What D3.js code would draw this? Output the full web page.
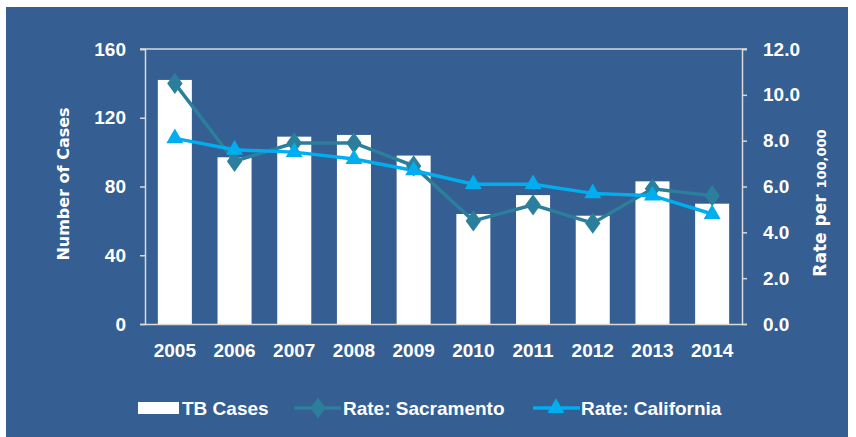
<!DOCTYPE html>
<meta charset="utf-8">
<script src="https://d3js.org/d3.v7.min.js"></script>
<body style="margin:0;background:#fff">
<svg id="chart" width="856" height="437"></svg>
<script>
    // data
    const years = ["2005","2006","2007","2008","2009","2010","2011","2012","2013","2014"];
    const tbCases = [142, 97, 109, 110, 98, 64, 75, 63, 83, 70];
    const rateSacramento = [10.5, 7.1, 7.9, 7.9, 6.9, 4.5, 5.2, 4.4, 5.9, 5.6];
    const rateCalifornia = [8.1, 7.6, 7.5, 7.2, 6.7, 6.1, 6.1, 5.7, 5.6, 4.8];
    const leftTicks = [0, 40, 80, 120, 160];
    const rightTicks = [0, 2, 4, 6, 8, 10, 12];

    const bg = "#355e92", axisCol = "#d9d9d9";
    const sacCol = "#2c7f9c", calCol = "#00aeef";
    const tickFont = "'Liberation Sans Narrow', 'Liberation Sans', sans-serif";

    const svg = d3.select("#chart");
    svg.append("rect").attr("x", 6).attr("y", 7).attr("width", 842).attr("height", 430).attr("fill", bg);

    const pLeft = 145, pRight = 742, pTop = 49, pBottom = 324;

    const x = d3.scaleBand().domain(years).range([pLeft, pRight]).paddingInner(0.43).paddingOuter(0.215);
    const yL = d3.scaleLinear().domain([0, 160]).range([pBottom, pTop]);
    const yR = d3.scaleLinear().domain([0, 12]).range([pBottom, pTop]);

    // bars
    svg.append("g").selectAll("rect")
        .data(tbCases)
        .join("rect")
            .attr("x", (d, i) => x(years[i]))
            .attr("y", d => yL(d))
            .attr("width", x.bandwidth())
            .attr("height", d => pBottom - yL(d))
            .attr("fill", "#fff");

    // axes
    const gl = svg.append("g").attr("transform", `translate(${pLeft},0)`)
        .call(d3.axisLeft(yL).tickValues(leftTicks).tickSize(5).tickPadding(14));
    const gr = svg.append("g").attr("transform", `translate(${pRight},0)`)
        .call(d3.axisRight(yR).tickValues(rightTicks).tickSize(5).tickPadding(16).tickFormat(d3.format(".1f")));
    [gl, gr].forEach(g => {
        g.select(".domain").attr("stroke", axisCol).attr("stroke-width", 1.5);
        g.selectAll(".tick line").attr("stroke", axisCol).attr("stroke-width", 1.5);
        g.selectAll(".tick text").attr("fill", "#fff").style("font", `bold 19px ${tickFont}`);
    });

    // top line and base line
    svg.append("line").attr("x1", pLeft - 5).attr("x2", pRight + 5).attr("y1", pTop).attr("y2", pTop)
        .attr("stroke", axisCol).attr("stroke-width", 1.5);
    const gx = svg.append("g").attr("transform", `translate(0,${pBottom})`)
        .call(d3.axisBottom(x).tickSize(0).tickPadding(20));
    gx.select(".domain").attr("stroke", axisCol).attr("stroke-width", 1.5);
    gx.selectAll(".tick text").attr("fill", "#fff").style("font", `bold 19px ${tickFont}`);

    // lines
    const cx = (d, i) => x(years[i]) + x.bandwidth() / 2;
    const line = d3.line().x(cx).y(d => yR(d));
    svg.append("path").datum(rateSacramento).attr("d", line)
        .attr("fill", "none").attr("stroke", sacCol).attr("stroke-width", 3.5);
    svg.append("path").datum(rateCalifornia).attr("d", line)
        .attr("fill", "none").attr("stroke", calCol).attr("stroke-width", 3.5);

    const diamond = d3.symbol().type(d3.symbolDiamond).size(130);
    const tri = d3.symbol().type(d3.symbolTriangle).size(125);
    svg.append("g").selectAll("path").data(rateSacramento).join("path")
        .attr("d", diamond).attr("fill", sacCol)
        .attr("transform", (d, i) => `translate(${cx(d, i)},${yR(d)}) scale(1.25,1)`);
    svg.append("g").selectAll("path").data(rateCalifornia).join("path")
        .attr("d", tri).attr("fill", calCol)
        .attr("transform", (d, i) => `translate(${cx(d, i)},${yR(d)})`);

    // axis titles
    svg.append("text").attr("transform", "translate(69,184) rotate(-90)")
        .attr("text-anchor", "middle").attr("fill", "#fff")
        .style("font", "bold 16px 'DejaVu Sans', sans-serif").text("Number of Cases");
    const rt = svg.append("text").attr("transform", "translate(826,203) rotate(-90)")
        .attr("text-anchor", "middle").attr("fill", "#fff")
        .style("font", "bold 17px 'DejaVu Sans', sans-serif");
    rt.append("tspan").text("Rate per ");
    rt.append("tspan").style("font-size", "13px").text("100,000");

    // legend
    const ly = 408;
    const lg = svg.append("g").style("font", `bold 19px ${tickFont}`).attr("fill", "#fff");
    lg.append("rect").attr("x", 138).attr("y", ly - 6).attr("width", 41).attr("height", 12).attr("fill", "#fff");
    lg.append("text").attr("x", 182).attr("y", ly).attr("dy", "0.35em").text("TB Cases");
    lg.append("line").attr("x1", 294).attr("x2", 341).attr("y1", ly).attr("y2", ly)
        .attr("stroke", sacCol).attr("stroke-width", 3.5);
    lg.append("path").attr("d", diamond).attr("fill", sacCol)
        .attr("transform", `translate(318,${ly}) scale(1.25,1)`);
    lg.append("text").attr("x", 343).attr("y", ly).attr("dy", "0.35em").text("Rate: Sacramento");
    lg.append("line").attr("x1", 533).attr("x2", 580).attr("y1", ly).attr("y2", ly)
        .attr("stroke", calCol).attr("stroke-width", 3.5);
    lg.append("path").attr("d", tri).attr("fill", calCol).attr("transform", `translate(556,${ly})`);
    lg.append("text").attr("x", 581).attr("y", ly).attr("dy", "0.35em").text("Rate: California");
</script>
</body>
